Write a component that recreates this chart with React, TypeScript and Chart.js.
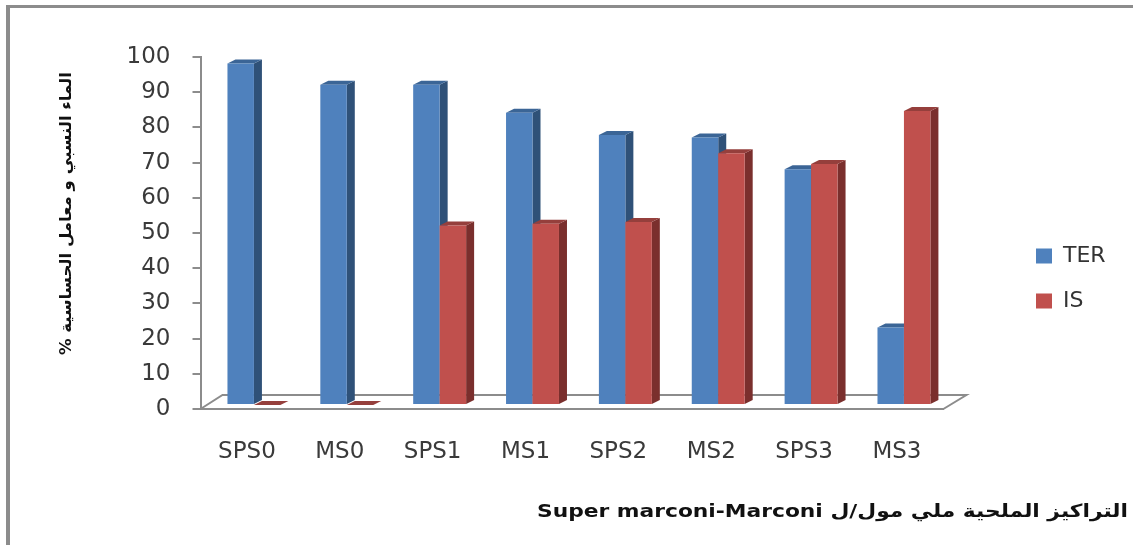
import React, { useEffect, useRef } from "react";
import { Chart, registerables } from "chart.js";

Chart.register(...registerables);

const categories = ["SPS0", "MS0", "SPS1", "MS1", "SPS2", "MS2", "SPS3", "MS3"];
const ter = [97, 91, 91, 83, 76.7, 76, 67, 22];
const is = [0, 0, 51, 51.5, 52, 71.5, 68.5, 83.5];
const yTitle = "\u202Bالماء النسبي و معامل الحساسية %\u202C";
const xTitle = "\u202Bالتراكيز الملحية ملي مول/ل Super marconi-Marconi\u202C";

const FONT = "'DejaVu Sans'";
const AXIS = "#8c8c8c";
const DEPTH_X = 8;
const DEPTH_Y = 4;
const SHIFT_X = 7;
const SHIFT_Y = -4;
const faces = [
  { side: "#2f5178", top: "#3b6596" },
  { side: "#7a2f2d", top: "#953f3c" },
];

function poly(ctx: CanvasRenderingContext2D, pts: number[][], fill: string) {
  ctx.beginPath();
  pts.forEach((p, i) => (i ? ctx.lineTo(p[0], p[1]) : ctx.moveTo(p[0], p[1])));
  ctx.closePath();
  ctx.fillStyle = fill;
  ctx.fill();
}

function stretchedText(ctx: CanvasRenderingContext2D, text: string, width: number) {
  const w = ctx.measureText(text).width;
  ctx.scale(width / w, 1);
  ctx.fillText(text, 0, 0);
}

const bars3d = {
  id: "bars3d",
  afterLayout(chart: any) {
    const lg = chart.legend;
    const w = lg.width;
    const h = lg.height;
    lg.left = 1013;
    lg.right = 1013 + w;
    lg.top = 278.5 - h / 2;
    lg.bottom = 278.5 + h / 2;
  },
  beforeDatasetsDraw(chart: any) {
    const { ctx, chartArea: a } = chart;
    ctx.save();
    ctx.strokeStyle = AXIS;
    ctx.lineWidth = 2;
    ctx.beginPath();
    ctx.moveTo(a.left, a.bottom);
    ctx.lineTo(a.left + 22, a.bottom - 14);
    ctx.lineTo(a.right + 23, a.bottom - 14);
    ctx.lineTo(a.right, a.bottom);
    ctx.stroke();
    ctx.restore();
  },
  // Chart.js paints dataset 0 last; the 3D faces need TER first, then IS on top.
  beforeDatasetDraw() {
    return false;
  },
  afterDatasetsDraw(chart: any) {
    const { ctx } = chart;
    ctx.save();
    ctx.translate(SHIFT_X, SHIFT_Y);
    [0, 1].forEach((di) => {
      const c = faces[di];
      chart.getDatasetMeta(di).data.forEach((el: any) => {
        const { x, y, base, width } = el.getProps(["x", "y", "base", "width"], true);
        const l = x - width / 2;
        const r = x + width / 2;
        poly(ctx, [[r, y], [r + DEPTH_X, y - DEPTH_Y], [r + DEPTH_X, base - DEPTH_Y], [r, base]], c.side);
        poly(ctx, [[l, y], [l + DEPTH_X, y - DEPTH_Y], [r + DEPTH_X, y - DEPTH_Y], [r, y]], c.top);
        el.draw(ctx);
      });
    });
    ctx.restore();
  },
  afterDraw(chart: any) {
    const { ctx } = chart;
    ctx.save();
    ctx.fillStyle = AXIS;
    ctx.fillRect(6, 5, 1127, 3);
    ctx.fillRect(6, 5, 4, 540);
    ctx.fillStyle = "#111";
    ctx.textBaseline = "middle";
    ctx.save();
    ctx.font = `bold 18px ${FONT}`;
    ctx.textAlign = "left";
    ctx.translate(537, 512);
    stretchedText(ctx, xTitle, 591);
    ctx.restore();
    ctx.translate(67, 355);
    ctx.rotate(-Math.PI / 2);
    ctx.textAlign = "left";
    ctx.font = `bold 16px ${FONT}`;
    stretchedText(ctx, yTitle, 283);
    ctx.restore();
  },
};

export default function App() {
  const ref = useRef<HTMLCanvasElement>(null);
  useEffect(() => {
    const chart = new Chart(ref.current as HTMLCanvasElement, {
      type: "bar",
      data: {
        labels: categories,
        datasets: [
          { label: "TER", data: ter, backgroundColor: "#4f81bd" },
          { label: "IS", data: is, backgroundColor: "#c0504d" },
        ],
      } as any,
      plugins: [bars3d],
      options: {
        responsive: false,
        animation: false,
        layout: { padding: { top: 57, right: 87, bottom: 0, left: 0 } },
        datasets: { bar: { barPercentage: 1, categoryPercentage: 0.57 } },
        plugins: {
          title: { display: false },
          tooltip: { enabled: false },
          legend: {
            position: "right",
            labels: {
              boxWidth: 16,
              boxHeight: 15,
              padding: 23,
              color: "#333",
              font: { family: FONT, size: 22 },
            },
          },
        },
        scales: {
          x: {
            afterFit: (s: any) => { s.height = 136; },
            grid: { display: false },
            border: { color: AXIS, width: 2 },
            ticks: { color: "#3a3a3a", padding: 21, maxRotation: 0, font: { family: FONT, size: 23 } },
          },
          y: {
            min: 0,
            max: 100,
            afterFit: (s: any) => { s.width = 200.5; },
            border: { color: AXIS, width: 2 },
            grid: { drawOnChartArea: false, drawTicks: true, tickLength: 8, color: AXIS, lineWidth: 2 },
            ticks: { stepSize: 10, color: "#3a3a3a", padding: 22, font: { family: FONT, size: 23 } },
          },
        },
      } as any,
    });
    return () => chart.destroy();
  }, []);
  return (
    <canvas
      ref={ref}
      width={1133}
      height={545}
      style={{ position: "fixed", left: 0, top: 0, width: 1133, height: 545, background: "#fff" }}
    />
  );
}
